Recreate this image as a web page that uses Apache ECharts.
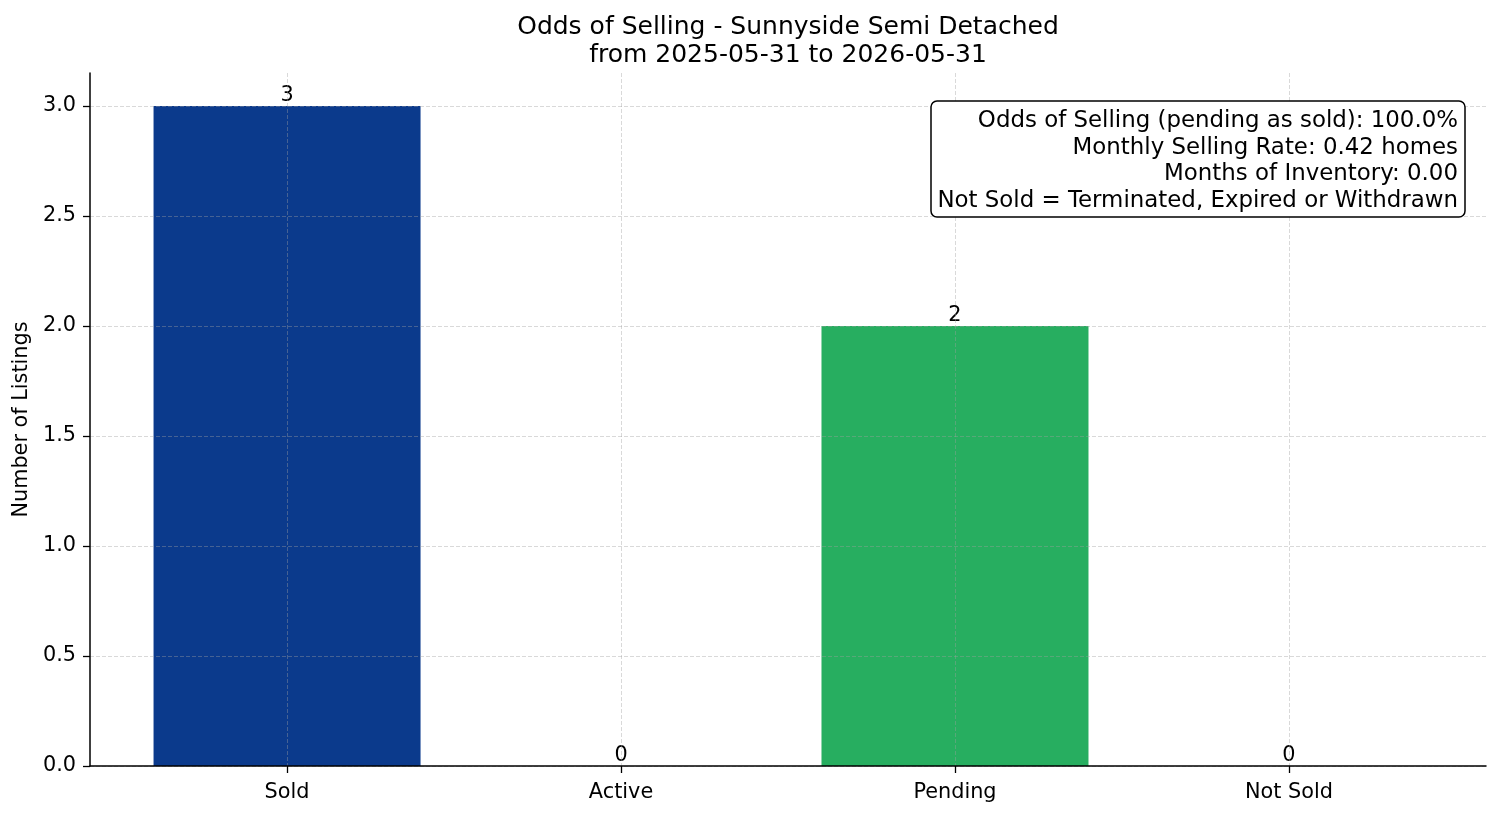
<!DOCTYPE html>
<html>
<head>
<meta charset="utf-8">
<script src="https://cdn.jsdelivr.net/npm/echarts@6/dist/echarts.min.js"></script>
<style>
html,body{margin:0;padding:0;background:#fff;}
#chart{width:1501px;height:816px;}
</style>
</head>
<body>
<div id="chart"></div>
<script>
// ---- data ----
const categories = ['Sold', 'Active', 'Pending', 'Not Sold'];
const counts = [3, 0, 2, 0];
const yTicks = [0, 0.5, 1.0, 1.5, 2.0, 2.5, 3.0];
const titleLines = ['Odds of Selling - Sunnyside Semi Detached', 'from 2025-05-31 to 2026-05-31'];
const infoLines = [
  'Odds of Selling (pending as sold): 100.0%',
  'Monthly Selling Rate: 0.42 homes',
  'Months of Inventory: 0.00',
  'Not Sold = Terminated, Expired or Withdrawn'
];
const yAxisTitle = 'Number of Listings';

// ---- chart ----
const barColors = ['#0b3a8c', '#0b3a8c', '#27ae60', '#27ae60'];
const xPos = categories.map((c, i) => i);
const font = 'DejaVu Sans';
const chart = echarts.init(document.getElementById('chart'), null, {renderer: 'canvas'});
const gridLine = {show: true, lineStyle: {color: 'rgba(160,160,160,0.5)', type: [4, 2], width: 0.8}};

chart.setOption({
  animation: false,
  backgroundColor: '#ffffff',
  textStyle: {fontFamily: font},
  title: {
    text: titleLines.join('\n'),
    left: 788, top: 13, textAlign: 'center', padding: 0,
    textStyle: {fontFamily: font, fontSize: 25, fontWeight: 'normal', color: '#000', lineHeight: 28}
  },
  grid: {left: 90, right: 15, top: 73, bottom: 50, containLabel: false},
  xAxis: {
    type: 'value', min: -0.59, max: 3.59, z: 5,
    axisLine: {show: true, onZero: false, lineStyle: {color: '#000', width: 1.5}},
    axisTick: {show: true, length: 7, customValues: xPos, lineStyle: {color: '#000', width: 1.3}},
    axisLabel: {customValues: xPos, margin: 16, fontSize: 20.8, color: '#000', fontFamily: font,
      formatter: v => categories[Math.round(v)] || ''},
    splitLine: gridLine
  },
  yAxis: {
    type: 'value', min: 0, max: 3.15, z: 5,
    name: yAxisTitle, nameLocation: 'middle', nameGap: 54, nameRotate: 90,
    nameTextStyle: {fontSize: 20.8, color: '#000', fontFamily: font},
    axisLine: {show: true, onZero: false, lineStyle: {color: '#000', width: 1.5}},
    axisTick: {show: true, length: 7, customValues: yTicks, lineStyle: {color: '#000', width: 1.3}},
    axisLabel: {customValues: yTicks, margin: 14, fontSize: 20.8, color: '#000', fontFamily: font,
      formatter: v => v.toFixed(1)},
    splitLine: gridLine
  },
  series: [{
    type: 'bar',
    barWidth: 267,
    data: counts.map((v, i) => ({value: [i, v], itemStyle: {color: barColors[i]}})),
    label: {show: true, position: 'top', distance: 0, fontSize: 20.8, color: '#000', fontFamily: font,
      formatter: p => String(p.value[1])}
  }],
  graphic: [{
    type: 'group',
    children: [
      {type: 'rect', shape: {x: 931, y: 101, width: 534, height: 116, r: 6},
       style: {fill: '#fff', stroke: '#000', lineWidth: 1.5}, z: 10},
      {type: 'text', x: 1458, y: 161, z: 11,
       style: {text: infoLines.join('\n'), align: 'right', verticalAlign: 'middle', lineHeight: 26.7,
               font: '22.9px "DejaVu Sans"', fill: '#000'}}
    ]
  }]
});
</script>
</body>
</html>
